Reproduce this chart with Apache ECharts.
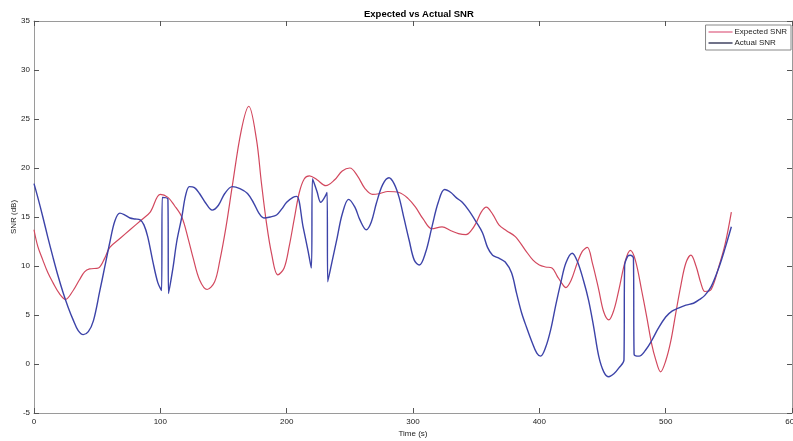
<!DOCTYPE html>
<html>
<head>
<meta charset="utf-8">
<script src="https://cdn.jsdelivr.net/npm/echarts@6/dist/echarts.min.js"></script>
<style>
html,body{margin:0;padding:0;background:#fff;}
#chart{width:793px;height:441px;}
</style>
</head>
<body>
<div id="chart"></div>
<script>
var chartTitle = 'Expected vs Actual SNR';
var seriesNames = ['Expected SNR', 'Actual SNR'];

var timeExpected = [0, 3, 7, 11, 15, 20, 25, 31, 36, 40, 44, 51, 56, 60, 68, 76, 85, 92, 100, 106, 111, 117, 122, 126, 131, 137, 143, 147, 152, 157, 164, 170, 176, 180, 184, 188, 193, 198, 202, 206, 210, 214, 218, 224, 231, 238, 244, 250, 256, 262, 268, 274, 280, 289, 296, 302, 308, 315, 323, 330, 336, 342, 346, 350, 354, 358, 363, 368, 374, 381, 389, 395, 400, 405, 410, 414, 418, 421, 425, 430, 434, 438, 442, 447, 451, 455, 459, 463, 468, 472, 476, 481, 485, 489, 492, 496, 500, 504, 508, 512, 516, 520, 524, 528, 531, 536, 542, 547, 552];
var snrExpected = [13.7, 12.0, 10.6, 9.3, 8.3, 7.2, 6.6, 7.5, 8.6, 9.4, 9.7, 9.8, 10.8, 11.9, 12.8, 13.7, 14.7, 15.5, 17.3, 17.0, 16.2, 15.0, 12.8, 10.8, 8.6, 7.6, 8.4, 10.5, 14.0, 18.2, 23.8, 26.3, 23.0, 18.5, 14.4, 11.3, 9.1, 9.8, 12.0, 14.8, 17.5, 18.9, 19.2, 18.8, 18.2, 18.8, 19.7, 20.0, 19.2, 17.9, 17.3, 17.4, 17.6, 17.5, 16.9, 16.0, 14.8, 13.8, 14.0, 13.6, 13.3, 13.2, 13.6, 14.4, 15.5, 16.0, 15.3, 14.2, 13.6, 13.0, 11.6, 10.6, 10.1, 9.9, 9.8, 9.0, 8.2, 7.8, 8.5, 10.3, 11.5, 11.9, 10.3, 7.6, 5.3, 4.5, 5.5, 7.6, 10.5, 11.6, 10.6, 7.5, 4.8, 2.0, 0.5, -0.8, 0.3, 2.3, 5.2, 8.0, 10.3, 11.1, 10.0, 8.2, 7.4, 7.6, 9.9, 12.2, 15.5];

var timeActual = [0, 3, 7, 11, 15, 19, 23, 27, 31, 35, 39, 43, 47, 52, 56, 60, 64, 68, 72, 76, 80, 84, 87, 90, 94, 98, 101, 101.5, 106, 106.5, 110, 113, 117, 120, 123, 127, 131, 136, 141, 146, 151, 157, 163, 169, 174, 178, 182, 187, 192, 196, 200, 205, 208, 213, 217, 219.5, 220.5, 224, 227, 230, 232, 232.5, 236, 240, 244, 249, 254, 258, 263, 267, 271, 276, 281, 285, 289, 293, 297, 301, 305, 310, 315, 320, 325, 330, 334, 339, 344, 350, 355, 359, 363, 368, 373, 378, 382, 386, 390, 394, 398, 401, 405, 409, 413, 417, 421, 426, 430, 435, 439, 443, 447, 451, 455, 459, 463, 467, 467.5, 470, 472, 474.5, 475, 479, 484, 489, 494, 500, 505, 510, 516, 522, 527, 531, 536, 542, 547, 552];
var snrActual = [18.4, 17.0, 15.0, 12.9, 10.9, 9.0, 7.3, 5.8, 4.5, 3.4, 3.0, 3.3, 4.4, 7.4, 9.9, 12.4, 14.6, 15.4, 15.2, 14.9, 14.8, 14.7, 14.2, 13.0, 10.5, 8.3, 7.5, 17.0, 16.8, 7.2, 9.8, 12.5, 15.0, 17.2, 18.1, 18.0, 17.4, 16.4, 15.7, 16.2, 17.4, 18.1, 17.9, 17.4, 16.4, 15.4, 14.9, 15.0, 15.2, 15.8, 16.5, 17.0, 17.1, 14.0, 11.5, 9.8, 18.9, 17.6, 16.5, 17.0, 17.5, 8.4, 10.5, 12.9, 15.3, 16.8, 16.0, 14.7, 13.7, 14.5, 16.4, 18.3, 19.0, 18.4, 17.0, 14.8, 12.6, 10.6, 10.1, 11.4, 14.0, 16.5, 17.8, 17.5, 17.0, 16.5, 15.7, 14.5, 13.4, 11.9, 11.1, 10.8, 10.4, 9.3, 7.2, 5.2, 3.7, 2.3, 1.1, 0.8, 1.7, 3.5, 6.0, 8.3, 10.3, 11.3, 10.5, 8.5, 6.5, 3.8, 0.8, -0.8, -1.3, -1.0, -0.4, 0.4, 10.0, 11.0, 11.1, 10.8, 1.0, 0.8, 1.4, 2.4, 3.6, 4.8, 5.4, 5.7, 6.0, 6.2, 6.6, 7.0, 7.9, 9.8, 11.8, 14.0];

var xRange = [0, 600, 100];
var yRange = [-5, 35, 5];
var xName = 'Time (s)';
var yName = 'SNR (dB)';

function pairs(xs, ys) { return xs.map(function (x, i) { return [x, ys[i]]; }); }

var FONT = 'Liberation Sans, Arial, sans-serif';
var RED = '#d2485e', BLUE = '#3c43a8';
var chart = echarts.init(document.getElementById('chart'), null, { renderer: 'canvas' });
var tickStyle = { show: true, inside: true, length: 5, lineStyle: { color: '#555', width: 1 } };
var lineAxis = { show: true, onZero: false, lineStyle: { color: '#9a9a9a', width: 1 } };
chart.setOption({
  animation: false,
  backgroundColor: '#fff',
  title: {
    text: chartTitle, left: 359, top: 4,
    textStyle: { fontFamily: FONT, fontSize: 9.5, fontWeight: 'bold', color: '#000' }
  },
  legend: {
    data: [
      { name: seriesNames[0], icon: 'rect', itemStyle: { color: '#e06a8a' } },
      { name: seriesNames[1], icon: 'rect', itemStyle: { color: '#22264a' } }
    ],
    orient: 'vertical', right: 2, top: 25,
    itemWidth: 24, itemHeight: 1.3, itemGap: 3, padding: [3, 4, 3, 3],
    borderColor: '#888', borderWidth: 1, backgroundColor: '#fff', borderRadius: 0,
    textStyle: { fontFamily: FONT, fontSize: 8, color: '#222', padding: [0, 0, 0, -3] }
  },
  grid: { left: 34, right: 1, top: 21, bottom: 28, containLabel: false, outerBoundsMode: 'none' },
  xAxis: [{
    type: 'value', min: xRange[0], max: xRange[1], interval: xRange[2], position: 'bottom',
    axisLine: lineAxis, axisTick: tickStyle, splitLine: { show: false },
    axisLabel: { fontFamily: FONT, fontSize: 8, color: '#222', margin: 5 },
    name: xName, nameLocation: 'middle', nameGap: 17, nameMoveOverlap: false,
    nameTextStyle: { fontFamily: FONT, fontSize: 8, color: '#222' }
  }, {
    type: 'value', min: xRange[0], max: xRange[1], interval: xRange[2], position: 'top',
    axisLine: lineAxis, axisTick: tickStyle, splitLine: { show: false }, axisLabel: { show: false }
  }],
  yAxis: [{
    type: 'value', min: yRange[0], max: yRange[1], interval: yRange[2], position: 'left',
    axisLine: lineAxis, axisTick: tickStyle, splitLine: { show: false },
    axisLabel: { fontFamily: FONT, fontSize: 8, color: '#222', margin: 4 },
    name: yName, nameLocation: 'middle', nameGap: 16, nameRotate: 90, nameMoveOverlap: false,
    nameTextStyle: { fontFamily: FONT, fontSize: 8, color: '#222' }
  }, {
    type: 'value', min: yRange[0], max: yRange[1], interval: yRange[2], position: 'right',
    axisLine: lineAxis, axisTick: tickStyle, splitLine: { show: false }, axisLabel: { show: false }
  }],
  series: [{
    name: seriesNames[0], type: 'line', xAxisIndex: 0, yAxisIndex: 0,
    data: pairs(timeExpected, snrExpected), symbol: 'none', smooth: 0.35,
    lineStyle: { color: RED, width: 1.2 }, itemStyle: { color: RED }, z: 2
  }, {
    name: seriesNames[1], type: 'line', xAxisIndex: 0, yAxisIndex: 0,
    data: pairs(timeActual, snrActual), symbol: 'none', smooth: 0.35,
    lineStyle: { color: BLUE, width: 1.4 }, itemStyle: { color: BLUE }, z: 3
  }]
});
</script>
</body>
</html>
